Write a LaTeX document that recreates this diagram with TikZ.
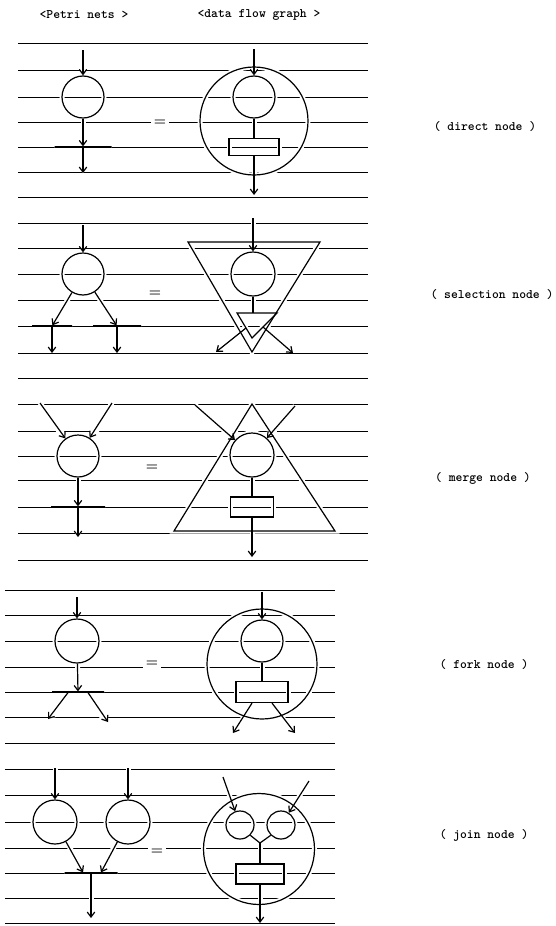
\documentclass[tikz,border=0pt]{standalone}
\usepackage{fontspec}
\usetikzlibrary{arrows.meta}

\newcommand{\flows}{%
  % direct node
  \node[place, minimum size=42pt] (p1) at (83,97) {};
  \node[bar, minimum width=57pt] (t1) at (83,147) {};
  \coordinate (p1in) at (83,50);
  \coordinate (p1out) at (83,173);
  \draw[arr] (p1in) -- (p1);
  \draw[arr] (p1) -- (t1);
  \draw[arr] (t1) -- (p1out);
  \node[place, minimum size=108pt] (g1) at (254,121) {};
  \node[place, minimum size=42pt] (d1) at (254,97) {};
  \node[box, minimum width=50pt, minimum height=17pt] (r1) at (254,147) {};
  \coordinate (d1in) at (254,49);
  \coordinate (d1out) at (254,195);
  \draw[arr] (d1in) -- (d1);
  \draw[link] (d1) -- (r1);
  \draw[arr] (r1) -- (d1out);
  % selection node
  \node[place, minimum size=42pt] (p2) at (83,274) {};
  \node[bar, minimum width=40pt] (t2a) at (52,326) {};
  \node[bar, minimum width=48pt] (t2b) at (117,326) {};
  \coordinate (p2in) at (83,225);
  \coordinate (t2aout) at (52,353);
  \coordinate (t2bout) at (117,353);
  \draw[arr] (p2in) -- (p2);
  \draw[arr] (p2) -- (t2a);
  \draw[arr] (p2) -- (t2b);
  \draw[arr] (t2a) -- (t2aout);
  \draw[arr] (t2b) -- (t2bout);
  \coordinate (g2a) at (188,242);
  \coordinate (g2b) at (320,242);
  \coordinate (g2c) at (252,352);
  \draw[link] (g2a) -- (g2b) -- (g2c) -- cycle;
  \node[place, minimum size=44pt] (d2) at (253,274) {};
  \coordinate (d2in) at (253,218);
  \coordinate (s2a) at (237,313);
  \coordinate (s2b) at (277,313);
  \coordinate (s2c) at (252,338);
  \coordinate (s2t) at (253,313);
  \coordinate (s2l) at (246,328);
  \coordinate (s2r) at (263,327);
  \coordinate (s2lo) at (216,352);
  \coordinate (s2ro) at (293,353);
  \draw[link] (s2a) -- (s2b) -- (s2c) -- cycle;
  \draw[arr] (d2in) -- (d2);
  \draw[link] (d2) -- (s2t);
  \draw[arr] (s2l) -- (s2lo);
  \draw[arr] (s2r) -- (s2ro);
  % merge node
  \node[place, minimum size=42pt] (p3) at (78,456) {};
  \node[bar, minimum width=54pt] (t3) at (78,507) {};
  \coordinate (p3ina) at (40,403);
  \coordinate (p3inb) at (112,403);
  \coordinate (p3out) at (78,537);
  \draw[arr] (p3ina) -- (p3);
  \draw[arr] (p3inb) -- (p3);
  \draw[arr] (p3) -- (t3);
  \draw[arr] (t3) -- (p3out);
  \coordinate (m3a) at (252,404);
  \coordinate (m3b) at (174,531);
  \coordinate (m3c) at (335,531);
  \draw[link] (m3a) -- (m3b) -- (m3c) -- cycle;
  \node[place, minimum size=44pt] (d3) at (252,455) {};
  \node[box, minimum width=43pt, minimum height=20pt] (r3) at (252,507) {};
  \coordinate (d3ina) at (195,405);
  \coordinate (d3inb) at (295,406);
  \coordinate (d3out) at (252,557);
  \draw[arr] (d3ina) -- (d3);
  \draw[arr] (d3inb) -- (d3);
  \draw[link] (d3) -- (r3);
  \draw[arr] (r3) -- (d3out);
  % fork node
  \node[place, minimum size=44pt] (p4) at (77,641) {};
  \node[bar, minimum width=52pt] (t4) at (78,692) {};
  \coordinate (p4in) at (77,597);
  \coordinate (t4a) at (48,719);
  \coordinate (t4b) at (108,722);
  \draw[arr] (p4in) -- (p4);
  \draw[arr] (p4) -- (t4);
  \draw[arr] ([xshift=-10pt]t4.south) -- (t4a);
  \draw[arr] ([xshift=10pt]t4.south) -- (t4b);
  \node[place, minimum size=110pt] (g4) at (262,664) {};
  \node[place, minimum size=42pt] (d4) at (262,641) {};
  \node[box, minimum width=52pt, minimum height=21pt] (r4) at (262,692) {};
  \coordinate (d4in) at (262,592);
  \coordinate (r4a) at (233,733);
  \coordinate (r4b) at (295,733);
  \draw[arr] (d4in) -- (d4);
  \draw[link] (d4) -- (r4);
  \draw[arr] ([xshift=-10pt]r4.south) -- (r4a);
  \draw[arr] ([xshift=10pt]r4.south) -- (r4b);
  % join node
  \node[place, minimum size=44pt] (p5a) at (55,822) {};
  \node[place, minimum size=44pt] (p5b) at (128,822) {};
  \node[bar, minimum width=53pt] (t5) at (91,873) {};
  \coordinate (p5ina) at (55,768);
  \coordinate (p5inb) at (128,768);
  \coordinate (p5out) at (91,918);
  \draw[arr] (p5ina) -- (p5a);
  \draw[arr] (p5inb) -- (p5b);
  \draw[arr] (p5a) -- ([xshift=-8pt]t5.north);
  \draw[arr] (p5b) -- ([xshift=10pt]t5.north);
  \draw[arr] (t5) -- (p5out);
  \node[place, minimum size=111pt] (g5) at (259,849) {};
  \node[place, minimum size=28pt] (d5a) at (240,825) {};
  \node[place, minimum size=28pt] (d5b) at (281,825) {};
  \node[box, minimum width=48pt, minimum height=20pt] (r5) at (260,874) {};
  \coordinate (d5ina) at (223,777);
  \coordinate (d5inb) at (309,781);
  \coordinate (j5) at (260,843);
  \coordinate (d5out) at (260,923);
  \draw[arr] (d5ina) -- (d5a);
  \draw[arr] (d5inb) -- (d5b);
  \draw[link] (d5a.south east) -- (j5) -- (d5b.south west);
  \draw[link] (j5) -- (r5);
  \draw[arr] (r5) -- (d5out);
}

\begin{document}
\begin{tikzpicture}[x=1pt, y=-1pt,
  ink/.style={draw=black, line width=1.2pt},
  place/.style={circle, inner sep=0pt, ink},
  bar/.style={rectangle, inner sep=0pt, minimum height=0pt, ink},
  box/.style={rectangle, inner sep=0pt, ink},
  link/.style={ink},
  arr/.style={ink, -{Straight Barb[length=5pt, width=7.5pt]}},
  rule/.style={line width=0.9pt},
  eq/.style={fill=white, inner sep=3pt, font=\bfseries\fontsize{14}{14}\selectfont},
  every node/.style={font=\ttfamily\bfseries\fontsize{13}{14}\selectfont}]
\useasboundingbox (0,0) rectangle (555,926);
\foreach \y in {43,70,97,122,147,172,197,223,248,274,300,326,353,378,404,431,456,480,507,533,560}
  \draw[rule] (18,\y) -- (368,\y);
\foreach \y in {590,615,641,667,692,717,743,769,795,822,848,873,898,923}
  \draw[rule] (5,\y) -- (335,\y);
\begin{scope}[ink/.style={draw=white, line width=5pt}]
  \flows
\end{scope}
\flows
\node (h1) at (84,15) {<Petri nets >};
\node (h2) at (259,15) {<data flow graph >};
\node[eq] (e1) at (160,123) {=};
\node[eq] (e2) at (155,294) {=};
\node[eq] (e3) at (152,468) {=};
\node[eq] (e4) at (152,664) {=};
\node[eq] (e5) at (157,852) {=};
\node (l1) at (485,127) {( direct node )};
\node (l2) at (492,295) {( selection node )};
\node (l3) at (483,478) {( merge node )};
\node (l4) at (484,665) {( fork node )};
\node (l5) at (484,835) {( join node )};
\end{tikzpicture}
\end{document}
